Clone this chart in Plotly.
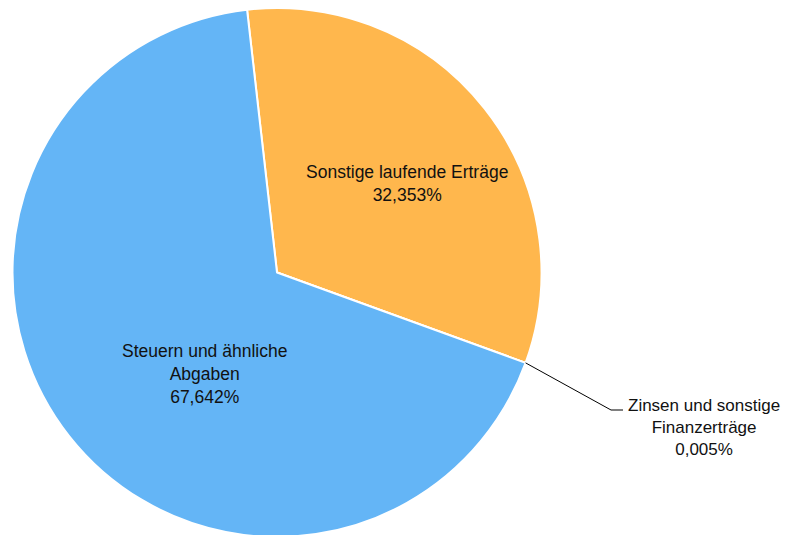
import math
import plotly.graph_objects as go

labels = ["Sonstige laufende Erträge", "Zinsen und sonstige Finanzerträge", "Steuern und ähnliche Abgaben"]
display_labels = ["Sonstige laufende Erträge", "Zinsen und sonstige<br>Finanzerträge", "Steuern und ähnliche<br>Abgaben"]
values = [32.353, 0.005, 67.642]
pct_text = ["32,353%", "0,005%", "67,642%"]
colors = ["#ffb74d", "#90caf9", "#64b5f6"]

W, H = 791, 535
OFF = 8  # page body margin shifts the plot by 8px
FONT = "Liberation Sans, Arial, sans-serif"
FSIZE = 17.5
rotation = -6.5


def px(x, y):
    # screen pixel -> paper coords
    return (x - OFF) / W, 1 - (y - OFF) / H


dom_x = [4 / W, 534 / W]
dom_y = [1 - 529 / H, 1.0]

fig = go.Figure(go.Pie(
    labels=labels,
    values=values,
    sort=False,
    direction="clockwise",
    rotation=rotation,
    marker=dict(colors=colors, line=dict(color="white", width=2)),
    textinfo="none",
    domain=dict(x=dom_x, y=dom_y),
    showlegend=False,
    hoverinfo="label+percent",
))

# leader line for the tiny slice, starting at its angle on the pie edge
cx = (dom_x[0] + dom_x[1]) / 2 * W
radius = min((dom_x[1] - dom_x[0]) * W, (dom_y[1] - dom_y[0]) * H) / 2
cy = (1 - (dom_y[0] + dom_y[1]) / 2) * H
frac = (values[0] + values[1] / 2) / sum(values)
ang = math.radians(rotation + 360 * frac)
x0 = (cx + radius * math.sin(ang)) / W
y0 = 1 - (cy - radius * math.cos(ang)) / H
x1, y1 = px(611, 410)
x2, _ = px(623, 410)
fig.add_shape(type="path",
              path=f"M {x0} {y0} L {x1} {y1} L {x2} {y1}",
              xref="paper", yref="paper", line=dict(color="black", width=1))

label_pos = [(407, 184, FSIZE), (703.5, 427, 17), (204, 374, FSIZE)]
for lab, pct, (lx, ly, fs) in zip(display_labels, pct_text, label_pos):
    ax, ay = px(lx, ly)
    fig.add_annotation(x=ax, y=ay, xref="paper", yref="paper",
                       text=f"{lab}<br>{pct}",
                       showarrow=False, xanchor="center", yanchor="middle", align="center",
                       font=dict(family=FONT, size=fs, color="#111111"))

fig.update_layout(
    width=W, height=H,
    margin=dict(l=0, r=0, t=0, b=0),
    paper_bgcolor="white",
    plot_bgcolor="white",
)

fig.write_html("out.html")
